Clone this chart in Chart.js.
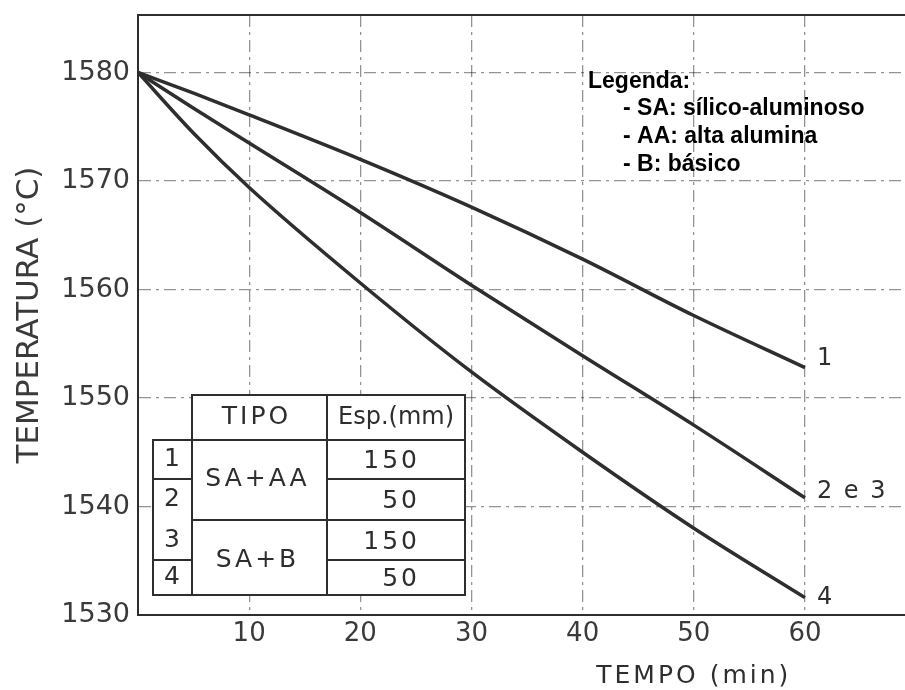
<!DOCTYPE html>
<html>
<head>
<meta charset="utf-8">
<script src="https://cdn.jsdelivr.net/npm/chart.js@4"></script>
<style>
  html, body { margin: 0; padding: 0; background: #fff; }
</style>
</head>
<body>
<canvas id="grafico" width="905" height="690"></canvas>
<script>
// valores
const tempo = [0, 5, 10, 20, 30, 40, 50, 60];
const curva1 = [1580, 1578.1, 1576.1, 1572.0, 1567.6, 1562.8, 1557.6, 1552.8];
const curva23 = [1580, 1576.7, 1573.5, 1567.1, 1560.4, 1553.9, 1547.5, 1540.8];
const curva4 = [1580, 1574.4, 1569.4, 1560.6, 1552.4, 1545.0, 1538.0, 1531.6];
const rotulosCurvas = ['1', '2 e 3', '4'];

const ticksX = [10, 20, 30, 40, 50, 60];
const ticksY = [1530, 1540, 1550, 1560, 1570, 1580];

const tabelaCabecalho = ['TIPO', 'Esp.(mm)'];
const tabelaNumeros = ['1', '2', '3', '4'];
const tabelaTipos = ['SA+AA', 'SA+B'];
const tabelaEspessuras = ['150', '50', '150', '50'];

const legendaTitulo = 'Legenda:';
const legendaItens = ['- SA: sílico-aluminoso', '- AA: alta alumina', '- B: básico'];

const TINTA = '#2e2e2e';
const FONTE = "'DejaVu Sans', sans-serif";

const toPoints = ys => tempo.map((t, i) => ({ x: t, y: ys[i] }));

// desenha a moldura de cima, a tabela, a legenda e os rótulos das curvas
const anotacoes = {
    id: 'anotacoes',
    afterDatasetsDraw(chart) {
        const { ctx, chartArea: area, scales } = chart;
        ctx.save();

        // linha superior
        ctx.strokeStyle = TINTA;
        ctx.lineWidth = 2;
        ctx.beginPath();
        ctx.moveTo(area.left, area.top);
        ctx.lineTo(area.right, area.top);
        ctx.stroke();

        // rótulos no fim das curvas
        ctx.fillStyle = TINTA;
        ctx.font = '24px ' + FONTE;
        ctx.textAlign = 'left';
        ctx.textBaseline = 'middle';
        ctx.letterSpacing = '2px';
        const desloc = [-9, -6, 0];
        chart.data.datasets.forEach((ds, i) => {
            const pts = chart.getDatasetMeta(i).data;
            const p = pts[pts.length - 1];
            ctx.fillText(rotulosCurvas[i], p.x + 12, p.y + desloc[i]);
        });

        // tabela
        const L = area.left, B = area.bottom;
        const xNum = L + 15, xTipo = L + 54, xEsp = L + 189, xFim = L + 327;
        const yTopo = B - 220, yCab = B - 175;
        const linhas = [yCab, B - 136, B - 95, B - 55, B - 20];

        ctx.fillStyle = '#fff';
        ctx.fillRect(xTipo, yTopo, xFim - xTipo, yCab - yTopo);
        ctx.fillRect(xNum, yCab, xFim - xNum, linhas[4] - yCab);

        ctx.strokeStyle = TINTA;
        ctx.lineWidth = 2;
        ctx.beginPath();
        ctx.rect(xTipo, yTopo, xFim - xTipo, yCab - yTopo);
        ctx.rect(xNum, yCab, xFim - xNum, linhas[4] - yCab);
        ctx.moveTo(xTipo, yCab); ctx.lineTo(xTipo, linhas[4]);
        ctx.moveTo(xEsp, yTopo); ctx.lineTo(xEsp, linhas[4]);
        [1, 3].forEach(k => { ctx.moveTo(xNum, linhas[k]); ctx.lineTo(xTipo, linhas[k]); });
        [1, 2, 3].forEach(k => { ctx.moveTo(xEsp, linhas[k]); ctx.lineTo(xFim, linhas[k]); });
        ctx.moveTo(xTipo, linhas[2]); ctx.lineTo(xEsp, linhas[2]);
        ctx.stroke();

        ctx.fillStyle = TINTA;
        ctx.font = '25px ' + FONTE;
        ctx.textAlign = 'center';
        ctx.letterSpacing = '3px';
        ctx.fillText(tabelaCabecalho[0], (xTipo + xEsp) / 2 - 3, (yTopo + yCab) / 2);
        tabelaNumeros.forEach((n, i) => {
            ctx.fillText(n, (xNum + xTipo) / 2 + 1, (linhas[i] + linhas[i + 1]) / 2);
        });
        tabelaTipos.forEach((t, i) => {
            ctx.fillText(t, (xTipo + xEsp) / 2 - 2, linhas[i * 2 + 1]);
        });
        ctx.textAlign = 'right';
        tabelaEspessuras.forEach((e, i) => {
            ctx.fillText(e, xFim - 45, (linhas[i] + linhas[i + 1]) / 2 + 2);
        });
        ctx.textAlign = 'center';
        ctx.letterSpacing = '0px';
        ctx.font = '24px ' + FONTE;
        ctx.fillText(tabelaCabecalho[1], (xEsp + xFim) / 2, (yTopo + yCab) / 2);

        // título do eixo x
        ctx.font = '25px ' + FONTE;
        ctx.letterSpacing = '3px';
        ctx.fillText('TEMPO (min)', scales.x.getPixelForValue(50), 676);
        ctx.letterSpacing = '0px';

        // legenda
        ctx.fillStyle = '#000';
        ctx.textAlign = 'left';
        ctx.font = "bold 23px 'Liberation Sans', Arial, sans-serif";
        ctx.fillText(legendaTitulo, 588, 82);
        legendaItens.forEach((t, i) => ctx.fillText(t, 623, 109 + i * 28));

        ctx.restore();
    }
};

new Chart(document.getElementById('grafico'), {
    type: 'line',
    data: {
        datasets: [curva1, curva23, curva4].map((ys, i) => ({
            label: rotulosCurvas[i],
            data: toPoints(ys),
            borderColor: TINTA,
            borderWidth: 3.5,
            pointRadius: 0,
            cubicInterpolationMode: 'monotone',
            fill: false
        }))
    },
    options: {
        responsive: false,
        animation: false,
        devicePixelRatio: 1,
        layout: { padding: { top: 15, right: 0, left: 0, bottom: 0 } },
        plugins: {
            legend: { display: false },
            tooltip: { enabled: false }
        },
        scales: {
            x: {
                type: 'linear',
                min: 0,
                max: 69,
                afterBuildTicks: s => { s.ticks = ticksX.map(v => ({ value: v })); },
                afterFit: s => { s.height = 75; s.paddingLeft = 0; s.paddingRight = 0; },
                ticks: {
                    color: '#3a3a3a',
                    padding: 4,
                    font: { family: FONTE, size: 26 },
                    callback: v => String(v)
                },
                grid: {
                    color: 'rgba(0,0,0,0.42)',
                    lineWidth: 1.3,
                    drawTicks: false
                },
                border: { display: true, color: TINTA, width: 2, dash: [12, 5, 3, 5] }
            },
            y: {
                min: 1530,
                max: 1585.3,
                afterBuildTicks: s => { s.ticks = ticksY.map(v => ({ value: v })); },
                afterFit: s => { s.width = 138; s.paddingTop = 0; s.paddingBottom = 0; },
                ticks: {
                    color: '#3a3a3a',
                    padding: 8,
                    font: { family: FONTE, size: 27 },
                    callback: v => String(v)
                },
                grid: {
                    color: c => c.tick && c.tick.value === 1530 ? 'rgba(0,0,0,0)' : 'rgba(0,0,0,0.42)',
                    lineWidth: 1.3,
                    drawTicks: false
                },
                border: { display: true, color: TINTA, width: 2, dash: [12, 5, 3, 5] },
                title: {
                    display: true,
                    text: 'TEMPERATURA (°C)',
                    color: '#3a3a3a',
                    font: { family: FONTE, size: 31 },
                    padding: { top: 11, bottom: 0 }
                }
            }
        }
    },
    plugins: [anotacoes]
});
</script>
</body>
</html>
